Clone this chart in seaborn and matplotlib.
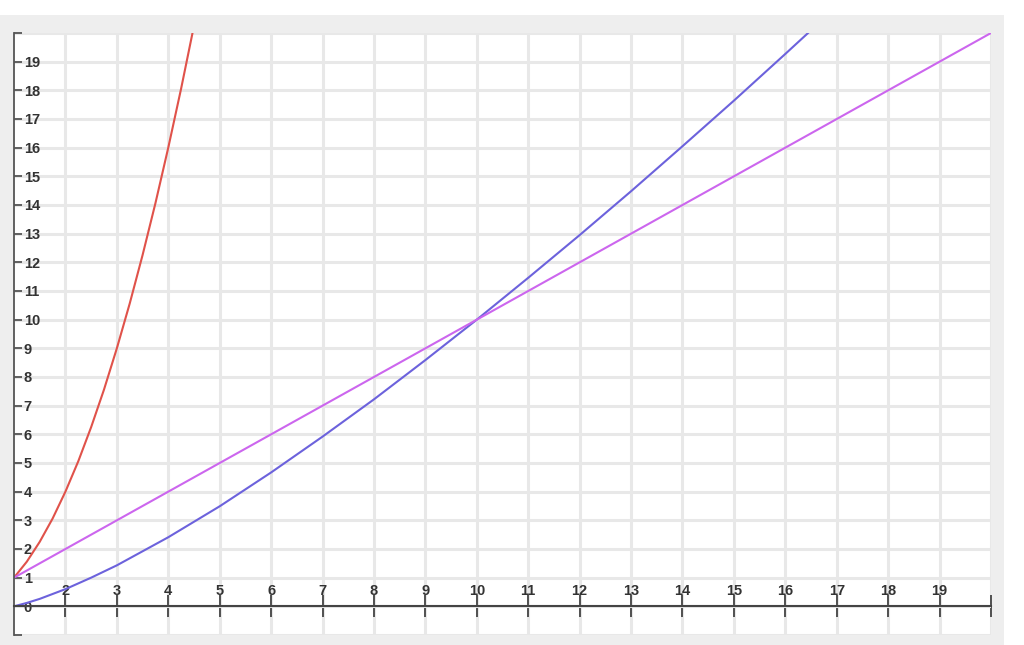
import numpy as np
import matplotlib.pyplot as plt
import matplotlib.patches as mpatches
import pandas as pd
import seaborn as sns

sns.set_style("white")
plt.rcParams['font.family'] = ['Liberation Sans', 'DejaVu Sans']

# values
red_x = [1, 1.25, 1.5, 1.75, 2, 2.25, 2.5, 2.75, 3, 3.25, 3.5, 3.75, 4, 4.25, 4.5]
red_y = [1, 1.56, 2.25, 3.06, 4, 5.06, 6.25, 7.56, 9, 10.56, 12.25, 14.06,
         16, 18.06, 20.25]

blue_x = [1, 1.25, 1.5, 1.75, 2, 2.5, 3, 4, 5, 6, 7, 8, 9, 10, 11, 12, 13,
          14, 15, 16, 17]
blue_y = [0, 0.12, 0.26, 0.43, 0.6, 1.0, 1.43, 2.41, 3.49, 4.67, 5.92, 7.22,
          8.59, 10, 11.46, 12.95, 14.48, 16.05, 17.64, 19.27, 20.92]

line_x = [1, 20]
line_y = [1, 20]

x_ticks = list(range(2, 21))
x_labels = [str(v) for v in range(2, 20)] + ['']
y_ticks = list(range(-1, 21))
y_labels = [''] + [str(v) for v in range(0, 20)] + ['']

W, H = 1024, 645
fig = plt.figure(figsize=(W / 100, H / 100), dpi=100, facecolor='white')
# gray frame behind the plot
fig.patches.append(mpatches.Rectangle((0, 0), 1004 / W, (H - 15) / H,
                                      transform=fig.transFigure,
                                      facecolor='#eeeeee', edgecolor='none', zorder=-10))

ax = fig.add_axes([14 / W, 10 / H, (991 - 14) / W, (635 - 33) / H])
ax.set_zorder(1)
ax.set_facecolor('white')

sns.lineplot(x=red_x, y=red_y, color='#e0524a', lw=1.5, ax=ax)
sns.lineplot(x=blue_x, y=blue_y, color='#6c62dc', lw=1.5, ax=ax)
sns.lineplot(x=line_x, y=line_y, color='#cc66ee', lw=1.5, ax=ax)

ax.set_xlim(1, 20)
ax.set_ylim(-1, 20)

ax.set_axisbelow(True)
ax.grid(True, color='#e8e8e8', lw=2.2)

for s in ['right', 'bottom']:
    ax.spines[s].set_visible(False)
ax.spines['left'].set_color('#555555')
ax.spines['left'].set_linewidth(1.3)
ax.spines['top'].set_position(('data', 0))
ax.spines['top'].set_color('#444444')
ax.spines['top'].set_linewidth(1.5)

ax.xaxis.tick_top()
ax.set_xticks(x_ticks)
ax.set_xticklabels(x_labels)
ax.tick_params(axis='x', top=True, bottom=False, direction='inout', length=16,
               width=1.3, color='#444444', pad=-2, labelsize=10.5,
               labelcolor='#333333')

ax.set_yticks(y_ticks)
ax.set_yticklabels(y_labels)
ax.tick_params(axis='y', left=True, right=False, direction='in', length=6,
               width=1.3, color='#555555', pad=-7, labelsize=10.5,
               labelcolor='#333333')
for lab in ax.get_yticklabels():
    lab.set_horizontalalignment('left')
    lab.set_fontweight('bold')
for lab in ax.get_xticklabels():
    lab.set_fontweight('bold')

ax.set_xlabel('')
ax.set_ylabel('')

plt.savefig('out.png', dpi=100, facecolor=fig.get_facecolor())
